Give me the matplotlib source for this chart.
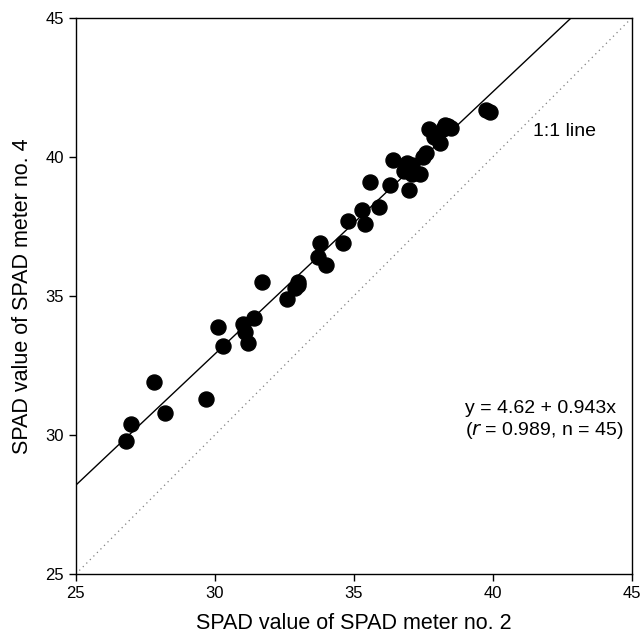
import matplotlib
matplotlib.use("Agg")
import matplotlib.pyplot as plt
import numpy as np

plt.rcParams['font.family'] = ['Liberation Sans', 'DejaVu Sans']

# SPAD readings: meter no. 2 (x) vs meter no. 4 (y)
spad2 = [26.8, 27.0, 27.8, 28.2, 29.7, 30.1, 30.3, 31.0, 31.1, 31.4,
         31.2, 31.7, 32.6, 33.0, 32.9, 33.7, 34.0, 33.8, 34.6, 34.8,
         35.3, 35.4, 35.9, 35.6, 36.3, 36.4, 37.0, 36.9, 37.1, 36.8,
         37.1, 37.4, 37.5, 37.6, 37.7, 37.9, 38.1, 38.4, 38.5, 38.3,
         39.75, 39.9, 37.0, 33.0, 38.2]
spad4 = [29.8, 30.4, 31.9, 30.8, 31.3, 33.9, 33.2, 34.0, 33.7, 34.2,
         33.3, 35.5, 34.9, 35.5, 35.3, 36.4, 36.1, 36.9, 36.9, 37.7,
         38.1, 37.6, 38.2, 39.1, 39.0, 39.9, 38.8, 39.8, 39.7, 39.5,
         39.4, 39.4, 40.0, 40.15, 41.0, 40.7, 40.5, 41.1, 41.05, 41.15,
         41.7, 41.6, 39.6, 35.4, 41.0]

intercept = 4.62
slope = 0.943

fig = plt.figure(figsize=(6.42, 6.40), dpi=100)
ax = fig.add_axes([0.118, 0.103, 0.866, 0.869])

xx = np.array([25, 45])
ax.plot(xx, xx, linestyle=(0, (1, 3)), color='gray', linewidth=0.9)
ax.plot(xx, intercept + slope * xx, color='black', linewidth=1.0)
ax.scatter(spad2, spad4, s=117, color='black', zorder=3)

ax.set_xlim(25, 45)
ax.set_ylim(25, 45)
ax.set_xticks([25, 30, 35, 40, 45])
ax.set_yticks([25, 30, 35, 40, 45])
ax.tick_params(direction='out', length=5, width=1, labelsize=12, top=False, right=False)
for sp in ax.spines.values():
    sp.set_linewidth(1.0)

ax.set_xlabel("SPAD value of SPAD meter no. 2", fontsize=15.5, labelpad=9)
ax.set_ylabel("SPAD value of SPAD meter no. 4", fontsize=15.5, labelpad=9)

ax.text(41.45, 40.9, "1:1 line", fontsize=14, va='center', ha='left')
ax.text(39.0, 30.95, "y = 4.62 + 0.943x", fontsize=14, va='center', ha='left')
ax.text(39.0, 30.17, "($r$ = 0.989, n = 45)", fontsize=14, va='center', ha='left')

plt.savefig("out.png", dpi=100)
